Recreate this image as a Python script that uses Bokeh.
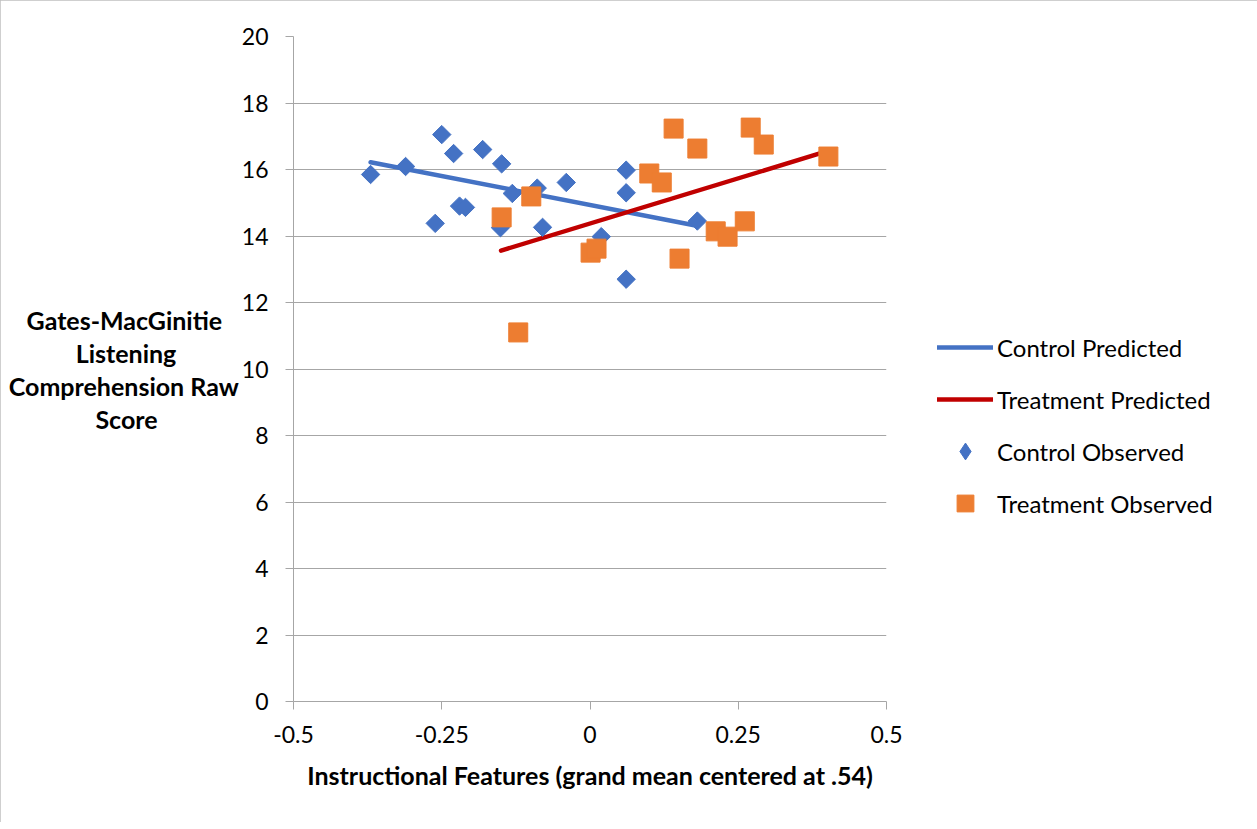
import math
from bokeh.plotting import figure
from bokeh.models import Range1d, FixedTicker, Legend, LegendItem, Label
from bokeh.embed import file_html
from bokeh.resources import INLINE

# ---- data ----
ctrl_obs_x = [-0.370, -0.311, -0.250, -0.230, -0.261, -0.220, -0.210, -0.181, -0.149,
              -0.151, -0.131, -0.089, -0.080, -0.040, 0.019, 0.061, 0.061, 0.061, 0.181]
ctrl_obs_y = [15.85, 16.09, 17.05, 16.48, 14.38, 14.90, 14.86, 16.60, 16.17,
              14.25, 15.28, 15.44, 14.26, 15.61, 13.98, 15.98, 15.30, 12.70, 14.45]
treat_obs_x = [-0.149, -0.099, -0.121, 0.001, 0.011, 0.141, 0.181, 0.100, 0.121,
               0.151, 0.212, 0.232, 0.261, 0.271, 0.293, 0.402]
treat_obs_y = [14.56, 15.19, 11.10, 13.50, 13.62, 17.23, 16.63, 15.88, 15.61,
               13.32, 14.14, 13.98, 14.44, 17.26, 16.75, 16.39]
ctrl_pred_x = [-0.37, 0.18]
ctrl_pred_y = [16.22, 14.31]
treat_pred_x = [-0.15, 0.40]
treat_pred_y = [13.56, 16.55]

x_ticks = [-0.5, -0.25, 0, 0.25, 0.5]
x_tick_labels = ["-0.5", "-0.25", "0", "0.25", "0.5"]
y_ticks = [0, 2, 4, 6, 8, 10, 12, 14, 16, 18, 20]

x_title = "Instructional Features (grand mean centered at .54)"
y_title_lines = ["Gates-MacGinitie", "Listening", "Comprehension Raw", "Score"]
series_names = ["Control Predicted", "Treatment Predicted", "Control Observed", "Treatment Observed"]

BLUE = "#4472C4"
RED = "#C00000"
ORANGE = "#ED7D31"
GRID = "#A6A6A6"
FONT = "Lato"

# trailing space padding so the right-aligned multi-line axis title reads as centred
EM, EN, THIRD, SIXTH = "\u2003", "\u2002", "\u2004", "\u2006"
y_title_pad = [EN + SIXTH, EM * 2 + EN * 2, "", EM * 3 + THIRD + EN + SIXTH]

p = figure(frame_width=593, frame_height=665, output_backend="svg", toolbar_location=None,
           x_range=Range1d(-0.5, 0.5), y_range=Range1d(0, 20),
           min_border_left=293, min_border_right=0, min_border_top=36, min_border_bottom=121)
p.outline_line_color = None
p.styles = {"outline": "1px solid #BFBFBF", "outline-offset": "-1px"}

p.xgrid.visible = False
p.ygrid.grid_line_color = GRID
p.ygrid.grid_line_width = 1.2
p.ygrid.ticker = FixedTicker(ticks=y_ticks)

xa = p.xaxis[0]
xa.ticker = FixedTicker(ticks=x_ticks)
xa.major_label_overrides = {t: l for t, l in zip(x_ticks, x_tick_labels)}
xa.axis_line_color = GRID
xa.major_tick_line_color = GRID
xa.major_tick_in = 0
xa.major_tick_out = 8
xa.minor_tick_line_color = None
xa.major_label_text_font = FONT
xa.major_label_text_font_size = "23px"
xa.major_label_text_color = "#000000"
xa.major_label_standoff = 16
xa.axis_label = x_title
xa.axis_label_text_font = FONT
xa.axis_label_text_font_style = "bold"
xa.axis_label_text_font_size = "25px"
xa.axis_label_text_color = "#000000"
xa.axis_label_standoff = 14

ya = p.yaxis[0]
ya.ticker = FixedTicker(ticks=y_ticks)
ya.axis_line_color = GRID
ya.major_tick_line_color = GRID
ya.major_tick_in = 0
ya.major_tick_out = 8
ya.minor_tick_line_color = None
ya.major_label_text_font = FONT
ya.major_label_text_font_size = "23px"
ya.major_label_text_color = "#000000"
ya.major_label_standoff = 17

use_axis_title = "axis_label_orientation" in ya.properties()
if use_axis_title:
    ya.axis_label = "\n".join(l + pad for l, pad in zip(y_title_lines, y_title_pad))
    ya.axis_label_orientation = "horizontal"
    ya.axis_label_text_font = FONT
    ya.axis_label_text_font_style = "bold"
    ya.axis_label_text_font_size = "25px"
    ya.axis_label_text_color = "#000000"
    ya.axis_label_text_align = "center"
    ya.axis_label_text_line_height = 1.1
    ya.axis_label_standoff = 0

r1 = p.line(ctrl_pred_x, ctrl_pred_y, line_color=BLUE, line_width=4.5, line_cap="round")
r2 = p.line(treat_pred_x, treat_pred_y, line_color=RED, line_width=4.5, line_cap="round")
r3 = p.scatter(ctrl_obs_x, ctrl_obs_y, marker="square", size=13, angle=math.pi / 4,
               fill_color=BLUE, line_color=BLUE)
r4 = p.scatter(treat_obs_x, treat_obs_y, marker="square", size=19,
               fill_color=ORANGE, line_color=ORANGE)
# legend key proxy: one point far outside the fixed ranges, drawn as an upright diamond
r3_key = p.scatter(x=[-10], y=[-10], marker="diamond", size=13, fill_color=BLUE, line_color=BLUE)

legend = Legend(items=[LegendItem(label=n, renderers=[r]) for n, r in zip(series_names, [r1, r2, r3_key, r4])],
                location=(51, 177))
legend.glyph_width = 56
legend.glyph_height = 42
legend.spacing = 10
legend.padding = 0
legend.margin = 44
legend.label_standoff = 4
legend.border_line_color = None
legend.background_fill_alpha = 0
legend.label_text_font = FONT
legend.label_text_font_size = "24px"
legend.label_text_color = "#000000"
p.add_layout(legend, "right")

if not use_axis_title:
    ys_screen = [378, 344, 312, 281]
    for line, ys in zip(y_title_lines, ys_screen):
        p.add_layout(Label(x=-164, y=ys, x_units="screen", y_units="screen", text=line,
                           text_align="center", text_baseline="middle",
                           text_font=FONT, text_font_style="bold",
                           text_font_size="25px", text_color="#000000"))

open("out.html", "w").write(file_html(p, INLINE))
